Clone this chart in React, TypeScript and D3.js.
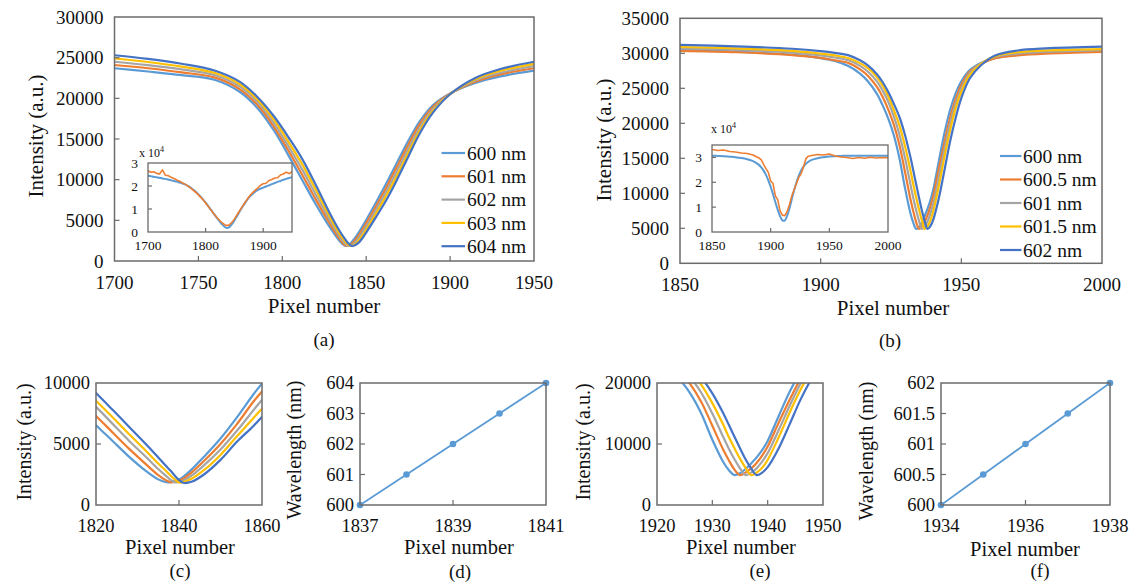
import React from 'react';
import * as d3 from 'd3';

// ---------------- DATA ----------------
const COLORS = ['#5B9BD5', '#ED7D31', '#A5A5A5', '#FFC000', '#4472C4'];
const LEGEND_A = ['600 nm', '601 nm', '602 nm', '603 nm', '604 nm'];
const LEGEND_B = ['600 nm', '600.5 nm', '601 nm', '601.5 nm', '602 nm'];

// Panel (a): simulated spectra, pixel vs intensity
const PIXEL_A = [1700, 1720, 1740, 1760, 1775, 1785, 1795, 1805, 1812, 1820, 1828, 1834, 1837, 1839, 1841, 1843, 1846, 1850, 1856, 1862, 1868, 1875, 1882, 1890, 1900, 1915, 1930, 1950];
const A_600 = [23700, 23300, 22850, 22250, 20750, 18850, 16050, 12500, 9900, 6950, 4250, 2500, 1900, 1950, 2250, 2750, 3650, 5050, 7250, 9550, 11950, 14750, 17200, 19200, 20600, 21900, 22700, 23400];
const A_601 = [24100, 23700, 23200, 22540, 21080, 19230, 16500, 13100, 10550, 7550, 4700, 2750, 2000, 1880, 2050, 2450, 3300, 4650, 6800, 9050, 11450, 14250, 16850, 19000, 20570, 22050, 22950, 23700];
const A_602 = [24500, 24080, 23550, 22830, 21400, 19600, 16950, 13650, 11200, 8150, 5150, 3050, 2200, 1880, 1900, 2200, 3000, 4250, 6350, 8550, 10900, 13750, 16450, 18750, 20550, 22200, 23150, 23950];
const A_603 = [24900, 24470, 23900, 23110, 21700, 19900, 17380, 14220, 11850, 8750, 5580, 3400, 2500, 2050, 1850, 2000, 2650, 3850, 5900, 8050, 10350, 13250, 16050, 18500, 20520, 22350, 23400, 24250];
const A_604 = [25300, 24850, 24250, 23400, 22000, 20200, 17800, 14800, 12500, 9350, 6000, 3750, 2800, 2250, 1880, 1900, 2350, 3500, 5450, 7500, 9850, 12800, 15700, 18300, 20500, 22500, 23600, 24500];

// Panel (c): zoom of the dip of (a)
const PIXEL_C = [1816, 1820, 1824, 1828, 1832, 1835, 1837, 1838, 1839, 1840, 1841, 1843, 1846, 1850, 1854, 1858, 1862, 1866];
const C_600 = [7900, 6540, 5250, 3950, 2800, 2100, 1870, 1880, 1960, 2100, 2300, 2900, 3950, 5450, 7200, 9100, 10800, 12700];
const C_601 = [8500, 7300, 5950, 4600, 3350, 2450, 2000, 1860, 1900, 2000, 2150, 2650, 3600, 5000, 6650, 8500, 10100, 12000];
const C_602 = [9200, 8040, 6650, 5250, 3950, 2950, 2350, 2050, 1850, 1900, 2000, 2400, 3250, 4550, 6100, 7800, 9450, 11300];
const C_603 = [9850, 8550, 7200, 5800, 4450, 3400, 2750, 2400, 2100, 1850, 1880, 2150, 2850, 4100, 5650, 7150, 8700, 10600];
const C_604 = [10500, 9180, 7800, 6400, 5000, 3900, 3150, 2800, 2400, 2050, 1820, 1900, 2500, 3700, 5200, 6500, 8000, 9900];

// Panel (b) and zoom (e)
const PIXEL_B = [1850, 1870, 1890, 1900, 1905, 1910, 1914, 1917, 1920, 1922, 1924, 1926, 1928, 1930, 1932, 1933, 1934, 1935, 1936, 1937, 1938, 1939, 1940, 1942, 1944, 1946, 1948, 1950, 1953, 1957, 1962, 1970, 1980, 2000];
const B_600 = [30500, 30250, 29800, 29300, 28900, 28150, 27100, 25900, 24200, 22600, 20700, 18300, 15000, 10700, 7000, 5700, 4900, 5200, 5900, 6800, 7800, 9000, 10500, 14600, 18600, 21900, 24300, 26000, 27600, 28600, 29300, 29800, 30100, 30400];
const B_6005 = [30350, 30150, 29750, 29350, 29000, 28600, 27700, 26700, 25200, 23800, 22000, 19800, 16900, 13000, 9000, 7300, 5800, 4900, 5300, 6000, 6900, 8100, 9600, 13500, 17300, 20800, 23500, 25500, 27400, 28500, 29300, 29700, 29950, 30200];
const B_601 = [30700, 30500, 30100, 29700, 29400, 29000, 28200, 27300, 26000, 24700, 23100, 21000, 18400, 15000, 11100, 9200, 7500, 6000, 4900, 5300, 6000, 7100, 8500, 12300, 16300, 20000, 22900, 25000, 27200, 28600, 29500, 29950, 30200, 30450];
const B_6015 = [30900, 30700, 30350, 29950, 29700, 29300, 28600, 27800, 26600, 25400, 23900, 21900, 19700, 16700, 13100, 11100, 9300, 7600, 6100, 4900, 5300, 6100, 7400, 11100, 15200, 19000, 22200, 24500, 26900, 28500, 29600, 30150, 30400, 30600];
const B_602 = [31200, 31000, 30650, 30300, 30050, 29700, 29000, 28200, 27000, 25900, 24500, 22800, 20900, 18300, 15000, 13100, 11200, 9300, 7500, 6000, 4900, 5300, 6200, 9300, 13300, 17400, 20800, 23600, 26400, 28300, 29700, 30400, 30700, 30950];

// Inset of (a): simulated vs measured (x 10^4)
const INSET_A_X = [1700, 1705, 1710, 1715, 1720, 1725, 1730, 1735, 1740, 1745, 1750, 1755, 1760, 1765, 1770, 1775, 1780, 1785, 1790, 1795, 1800, 1805, 1810, 1815, 1820, 1825, 1830, 1835, 1840, 1845, 1850, 1855, 1860, 1865, 1870, 1875, 1880, 1885, 1890, 1895, 1900, 1905, 1910, 1915, 1920, 1925, 1930, 1935, 1940, 1945, 1950];
const INSET_A_SIM = [2.45, 2.43, 2.40, 2.38, 2.36, 2.33, 2.31, 2.28, 2.25, 2.22, 2.19, 2.15, 2.11, 2.06, 1.99, 1.91, 1.81, 1.70, 1.57, 1.43, 1.28, 1.11, 0.94, 0.77, 0.60, 0.44, 0.30, 0.19, 0.19, 0.32, 0.50, 0.71, 0.93, 1.13, 1.32, 1.49, 1.62, 1.73, 1.82, 1.88, 1.93, 1.98, 2.03, 2.08, 2.13, 2.18, 2.22, 2.27, 2.31, 2.35, 2.38];
const INSET_A_EXP = [2.66, 2.60, 2.62, 2.55, 2.52, 2.70, 2.47, 2.45, 2.38, 2.33, 2.26, 2.21, 2.13, 2.07, 1.98, 1.90, 1.79, 1.68, 1.55, 1.42, 1.26, 1.10, 0.93, 0.77, 0.62, 0.49, 0.37, 0.29, 0.29, 0.40, 0.56, 0.76, 0.96, 1.15, 1.34, 1.52, 1.67, 1.79, 1.90, 2.02, 2.10, 2.12, 2.24, 2.28, 2.35, 2.36, 2.48, 2.52, 2.60, 2.54, 2.62];

// Inset of (b)
const INSET_B_X = [1850, 1855, 1860, 1865, 1870, 1875, 1880, 1885, 1890, 1892, 1894, 1896, 1898, 1900, 1902, 1904, 1906, 1908, 1910, 1912, 1914, 1916, 1918, 1920, 1922, 1924, 1926, 1928, 1930, 1932, 1935, 1940, 1945, 1950, 1955, 1960, 1965, 1970, 1975, 1980, 1985, 1990, 1995, 2000];
const INSET_B_SIM = [3.07, 3.06, 3.05, 3.03, 3.01, 2.98, 2.93, 2.85, 2.70, 2.60, 2.47, 2.30, 2.08, 1.82, 1.52, 1.20, 0.90, 0.64, 0.47, 0.46, 0.65, 0.95, 1.32, 1.68, 2.00, 2.27, 2.48, 2.63, 2.74, 2.82, 2.90, 2.97, 3.01, 3.04, 3.05, 3.06, 3.07, 3.07, 3.07, 3.07, 3.07, 3.07, 3.07, 3.07];
const INSET_B_EXP = [3.32, 3.28, 3.30, 3.24, 3.22, 3.18, 3.16, 3.10, 2.98, 2.90, 2.72, 2.55, 2.40, 2.05, 1.95, 1.45, 1.30, 0.85, 0.68, 0.66, 0.82, 1.10, 1.45, 1.70, 1.95, 2.20, 2.35, 2.62, 2.95, 3.05, 3.08, 3.12, 3.10, 3.14, 3.06, 3.02, 3.00, 2.96, 3.00, 2.97, 3.01, 2.98, 3.00, 2.99];

// Panels (d) and (f): dip pixel vs wavelength
const D_PIXEL = [1837, 1838, 1839, 1840, 1841];
const D_WAVE = [600, 601, 602, 603, 604];
const F_PIXEL = [1934, 1935, 1936, 1937, 1938];
const F_WAVE = [600, 600.5, 601, 601.5, 602];

// Tick values
const A_XTICKS = [1700, 1750, 1800, 1850, 1900, 1950];
const A_YTICKS = [0, 5000, 10000, 15000, 20000, 25000, 30000];
const B_XTICKS = [1850, 1900, 1950, 2000];
const B_YTICKS = [0, 5000, 10000, 15000, 20000, 25000, 30000, 35000];
const C_XTICKS = [1820, 1840, 1860];
const C_YTICKS = [0, 5000, 10000];
const E_XTICKS = [1920, 1930, 1940, 1950];
const E_YTICKS = [0, 10000, 20000];
const D_XTICKS = [1837, 1839, 1841];
const D_YTICKS = [600, 601, 602, 603, 604];
const F_XTICKS = [1934, 1936, 1938];
const F_YTICKS = [600, 600.5, 601, 601.5, 602];
const IA_XTICKS = [1700, 1800, 1900];
const IA_YTICKS = [0, 1, 2, 3];
const IB_XTICKS = [1850, 1900, 1950, 2000];
const IB_YTICKS = [0, 1, 2, 3];

// ---------------- STYLE ----------------
const FONT = "'Liberation Serif', 'Times New Roman', Times, serif";
const TEXT = '#111';
const BOX = '#6b6b6b';

type Frame = { left: number; right: number; top: number; bottom: number };
type LineSpec = { xs: number[]; ys: number[]; color: string; width: number; curve: d3.CurveFactory; markers?: boolean };

interface PlotProps {
  id: string;
  f: Frame;
  xDom: [number, number];
  yDom: [number, number];
  xTicks: number[];
  yTicks: number[];
  lines: LineSpec[];
  fs: number;
  xLabDy: number;
  yLabDx: number;
  tickLen: number;
  boxW: number;
}

function Plot(p: PlotProps) {
  const { f } = p;
  const x = d3.scaleLinear().domain(p.xDom).range([f.left, f.right]);
  const y = d3.scaleLinear().domain(p.yDom).range([f.bottom, f.top]);
  const innerX = p.xTicks.filter((t) => t > p.xDom[0] && t < p.xDom[1]);
  const innerY = p.yTicks.filter((t) => t > p.yDom[0] && t < p.yDom[1]);
  const clip = `clip-${p.id}`;
  return (
    <g>
      <defs>
        <clipPath id={clip}>
          <rect x={f.left} y={f.top} width={f.right - f.left} height={f.bottom - f.top} />
        </clipPath>
      </defs>
      <rect x={f.left} y={f.top} width={f.right - f.left} height={f.bottom - f.top} fill="#fff" />
      <g clipPath={`url(#${clip})`}>
        {p.lines.map((l, i) => {
          const gen = d3
            .line<number>()
            .x((_, j) => x(l.xs[j]))
            .y((d) => y(d))
            .curve(l.curve);
          return <path key={i} d={gen(l.ys) || ''} fill="none" stroke={l.color} strokeWidth={l.width} strokeLinejoin="round" strokeLinecap="round" />;
        })}
      </g>
      {p.lines.filter((l) => l.markers).map((l, i) => (
        <g key={`m${i}`}>
          {l.ys.map((v, j) => (
            <circle key={j} cx={x(l.xs[j])} cy={y(v)} r={3.3} fill={l.color} />
          ))}
        </g>
      ))}
      <rect x={f.left} y={f.top} width={f.right - f.left} height={f.bottom - f.top} fill="none" stroke={BOX} strokeWidth={p.boxW} />
      {innerX.map((t) => (
        <line key={`xt${t}`} x1={x(t)} x2={x(t)} y1={f.bottom} y2={f.bottom - p.tickLen} stroke={BOX} strokeWidth={1.2} />
      ))}
      {innerY.map((t) => (
        <line key={`yt${t}`} x1={f.left} x2={f.left + p.tickLen} y1={y(t)} y2={y(t)} stroke={BOX} strokeWidth={1.2} />
      ))}
      {p.xTicks.map((t) => (
        <text key={`xl${t}`} x={x(t)} y={f.bottom + p.xLabDy} textAnchor="middle" fontSize={p.fs} fill={TEXT}>
          {String(t)}
        </text>
      ))}
      {p.yTicks.map((t) => (
        <text key={`yl${t}`} x={f.left - p.yLabDx} y={y(t)} dy="0.35em" textAnchor="end" fontSize={p.fs} fill={TEXT}>
          {String(t)}
        </text>
      ))}
    </g>
  );
}

function YTitle({ x, y, text, fs }: { x: number; y: number; text: string; fs: number }) {
  return (
    <text transform={`translate(${x},${y}) rotate(-90)`} textAnchor="middle" fontSize={fs} fill={TEXT}>
      {text}
    </text>
  );
}

function Label({ x, y, text, fs }: { x: number; y: number; text: string; fs: number }) {
  return (
    <text x={x} y={y} textAnchor="middle" fontSize={fs} fill={TEXT}>
      {text}
    </text>
  );
}

function Legend({ x0, x1, tx, y0, dy, labels, fs }: { x0: number; x1: number; tx: number; y0: number; dy: number; labels: string[]; fs: number }) {
  return (
    <g>
      {labels.map((lab, i) => (
        <g key={lab}>
          <line x1={x0} x2={x1} y1={y0 + i * dy} y2={y0 + i * dy} stroke={COLORS[i]} strokeWidth={2.2} />
          <text x={tx} y={y0 + i * dy} dy="0.35em" fontSize={fs} fill={TEXT}>
            {lab}
          </text>
        </g>
      ))}
    </g>
  );
}

function Exponent({ x, y }: { x: number; y: number }) {
  return (
    <text x={x} y={y} fontSize={12} fill={TEXT}>
      x 10
      <tspan fontSize={8} dy={-5}>4</tspan>
    </text>
  );
}

export default function App() {
  const smooth = d3.curveCatmullRom.alpha(0.5);
  const mkLines = (xs: number[], sets: number[][]): LineSpec[] => sets.map((ys, i) => ({ xs, ys, color: COLORS[i], width: 2.2, curve: smooth }));
  const linesA = mkLines(PIXEL_A, [A_600, A_601, A_602, A_603, A_604]);
  const linesC = mkLines(PIXEL_C, [C_600, C_601, C_602, C_603, C_604]);
  const linesB = mkLines(PIXEL_B, [B_600, B_6005, B_601, B_6015, B_602]);

  const FA: Frame = { left: 114.5, right: 534, top: 17, bottom: 261 };
  const FB: Frame = { left: 680, right: 1102, top: 18.3, bottom: 263.3 };
  const FC: Frame = { left: 96, right: 262, top: 383, bottom: 505 };
  const FD: Frame = { left: 360, right: 546, top: 383, bottom: 505 };
  const FE: Frame = { left: 657, right: 823, top: 383, bottom: 505 };
  const FF: Frame = { left: 941, right: 1110, top: 383, bottom: 505 };
  const FIA: Frame = { left: 148, right: 292, top: 163, bottom: 232 };
  const FIB: Frame = { left: 712, right: 888, top: 145, bottom: 232 };

  const mainFs = 19;
  const smallFs = 18.5;
  const titleFs = 21;

  return (
    <svg width={1132} height={586} style={{ position: 'absolute', left: 0, top: 0, fontFamily: FONT }}>
      <rect width={1132} height={586} fill="#fff" />

      {/* (a) */}
      <Plot id="a" f={FA} xDom={[1700, 1950]} yDom={[0, 30000]} xTicks={A_XTICKS} yTicks={A_YTICKS} lines={linesA} fs={mainFs} xLabDy={28} yLabDx={11} tickLen={5} boxW={1.5} />
      <Plot
        id="ia"
        f={FIA}
        xDom={[1700, 1950]}
        yDom={[0, 3]}
        xTicks={IA_XTICKS}
        yTicks={IA_YTICKS}
        lines={[
          { xs: INSET_A_X, ys: INSET_A_SIM, color: COLORS[0], width: 2, curve: smooth },
          { xs: INSET_A_X, ys: INSET_A_EXP, color: COLORS[1], width: 1.6, curve: d3.curveLinear },
        ]}
        fs={13.5}
        xLabDy={18}
        yLabDx={10}
        tickLen={4}
        boxW={1.3}
      />
      <Exponent x={139} y={157} />
      <Legend x0={441.5} x1={465} tx={467} y0={153} dy={23.3} labels={LEGEND_A} fs={19.5} />
      <YTitle x={43} y={136} text="Intensity (a.u.)" fs={titleFs} />
      <Label x={324} y={313} text="Pixel number" fs={titleFs} />
      <Label x={324} y={346} text="(a)" fs={19} />

      {/* (b) */}
      <Plot id="b" f={FB} xDom={[1850, 2000]} yDom={[0, 35000]} xTicks={B_XTICKS} yTicks={B_YTICKS} lines={linesB} fs={mainFs} xLabDy={28} yLabDx={11} tickLen={5} boxW={1.5} />
      <Plot
        id="ib"
        f={FIB}
        xDom={[1850, 2000]}
        yDom={[0, 3.5]}
        xTicks={IB_XTICKS}
        yTicks={IB_YTICKS}
        lines={[
          { xs: INSET_B_X, ys: INSET_B_SIM, color: COLORS[0], width: 2, curve: smooth },
          { xs: INSET_B_X, ys: INSET_B_EXP, color: COLORS[1], width: 1.6, curve: d3.curveLinear },
        ]}
        fs={13.5}
        xLabDy={18}
        yLabDx={10}
        tickLen={4}
        boxW={1.3}
      />
      <Exponent x={711} y={133} />
      <Legend x0={1000} x1={1021.5} tx={1023} y0={156} dy={23.5} labels={LEGEND_B} fs={19.5} />
      <YTitle x={611} y={140} text="Intensity (a.u.)" fs={titleFs} />
      <Label x={893} y={315} text="Pixel number" fs={titleFs} />
      <Label x={890} y={347} text="(b)" fs={19} />

      {/* (c) */}
      <Plot id="c" f={FC} xDom={[1820, 1860]} yDom={[0, 10000]} xTicks={C_XTICKS} yTicks={C_YTICKS} lines={linesC} fs={smallFs} xLabDy={27} yLabDx={6} tickLen={5} boxW={1.5} />
      <YTitle x={31} y={442} text="Intensity (a.u.)" fs={20} />
      <Label x={180} y={554} text="Pixel number" fs={20.5} />
      <Label x={180} y={577} text="(c)" fs={19} />

      {/* (d) */}
      <Plot
        id="d"
        f={FD}
        xDom={[1837, 1841]}
        yDom={[600, 604]}
        xTicks={D_XTICKS}
        yTicks={D_YTICKS}
        lines={[{ xs: D_PIXEL, ys: D_WAVE, color: COLORS[0], width: 1.8, curve: d3.curveLinear, markers: true }]}
        fs={smallFs}
        xLabDy={27}
        yLabDx={6}
        tickLen={5}
        boxW={1.5}
      />
      <YTitle x={301} y={450} text="Wavelength (nm)" fs={20} />
      <Label x={459} y={554} text="Pixel number" fs={20.5} />
      <Label x={460} y={578} text="(d)" fs={19} />

      {/* (e) */}
      <Plot id="e" f={FE} xDom={[1920, 1950]} yDom={[0, 20000]} xTicks={E_XTICKS} yTicks={E_YTICKS} lines={linesB} fs={smallFs} xLabDy={27} yLabDx={6} tickLen={5} boxW={1.5} />
      <YTitle x={590} y={442} text="Intensity (a.u.)" fs={20} />
      <Label x={741} y={554} text="Pixel number" fs={20.5} />
      <Label x={760} y={577} text="(e)" fs={19} />

      {/* (f) */}
      <Plot
        id="f"
        f={FF}
        xDom={[1934, 1938]}
        yDom={[600, 602]}
        xTicks={F_XTICKS}
        yTicks={F_YTICKS}
        lines={[{ xs: F_PIXEL, ys: F_WAVE, color: COLORS[0], width: 1.8, curve: d3.curveLinear, markers: true }]}
        fs={smallFs}
        xLabDy={27}
        yLabDx={6}
        tickLen={5}
        boxW={1.5}
      />
      <YTitle x={873} y={451} text="Wavelength (nm)" fs={20} />
      <Label x={1025} y={556} text="Pixel number" fs={20.5} />
      <Label x={1040} y={577} text="(f)" fs={19} />
    </svg>
  );
}
